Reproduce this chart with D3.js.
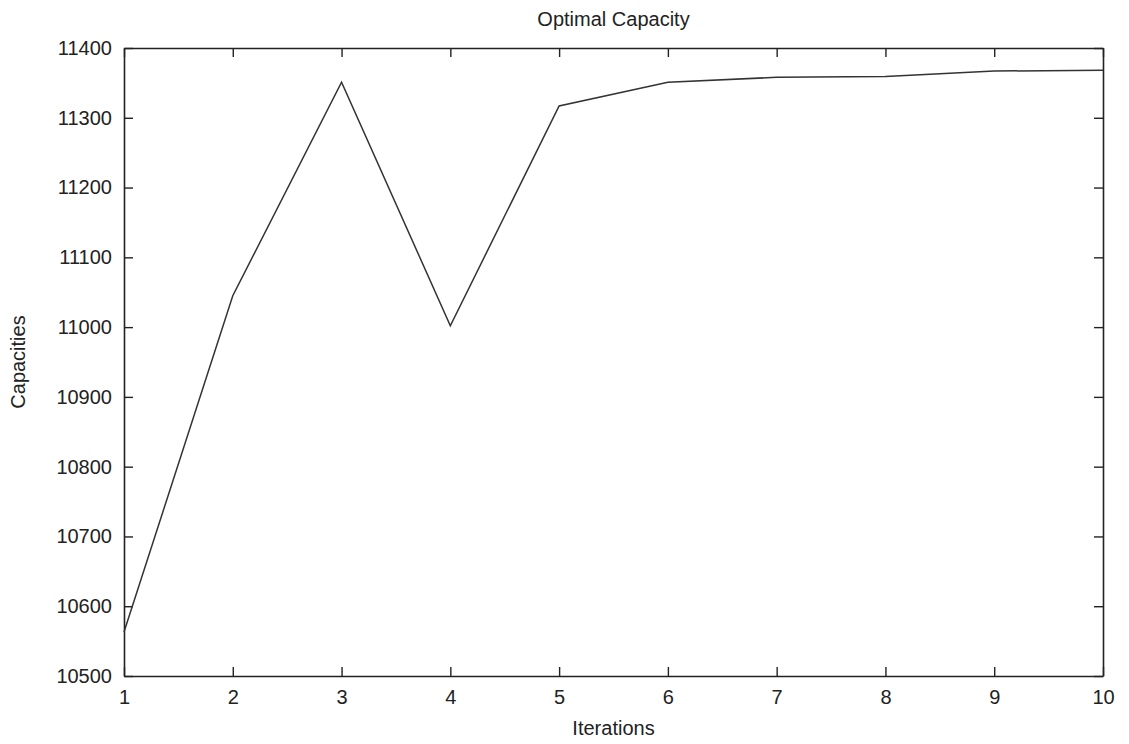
<!DOCTYPE html>
<html><head><meta charset="utf-8">
<script src="https://cdn.jsdelivr.net/npm/d3@7"></script>
<style>
html,body{margin:0;padding:0;background:#fff;}
text{font-family:"Liberation Sans",Arial,Helvetica,sans-serif;fill:#222;}
</style></head>
<body>
<svg id="chart" width="1129" height="744"></svg>
<script>
const iterations = [1,2,3,4,5,6,7,8,9,10];
const capacities = [10563,11045,11351,11002,11317,11351,11358,11359,11367,11368];
const xTicks = [1,2,3,4,5,6,7,8,9,10];
const yTicks = [10500,10600,10700,10800,10900,11000,11100,11200,11300,11400];
const title = "Optimal Capacity";
const xLabel = "Iterations";
const yLabel = "Capacities";

const svg = d3.select("#chart");
const m = {left:124, right:1129-1103, top:48, bottom:744-676};
const W = 1129, H = 744;
const x = d3.scaleLinear().domain([1,10]).range([m.left, W-m.right]);
const y = d3.scaleLinear().domain([10500,11400]).range([H-m.bottom, m.top]);
const fs = 20;
const ink = "#222";

// bottom axis
const gb = svg.append("g").attr("transform",`translate(0,${H-m.bottom})`)
  .call(d3.axisBottom(x).tickValues(xTicks).tickSizeInner(-9).tickSizeOuter(0).tickPadding(14).tickFormat(d3.format("d")));
const gt = svg.append("g").attr("transform",`translate(0,${m.top})`)
  .call(d3.axisTop(x).tickValues(xTicks).tickSizeInner(-9).tickSizeOuter(0).tickFormat(""));
const gl = svg.append("g").attr("transform",`translate(${m.left},0)`)
  .call(d3.axisLeft(y).tickValues(yTicks).tickSizeInner(-9).tickSizeOuter(0).tickPadding(12).tickFormat(d3.format("d")));
const gr = svg.append("g").attr("transform",`translate(${W-m.right},0)`)
  .call(d3.axisRight(y).tickValues(yTicks).tickSizeInner(-9).tickSizeOuter(0).tickFormat(""));
[gb,gt,gl,gr].forEach(g=>{
  g.selectAll(".domain").attr("stroke",ink).attr("stroke-width",1.6);
  g.selectAll(".tick line").attr("stroke",ink).attr("stroke-width",1.4);
  g.selectAll(".tick text").attr("font-size",fs).attr("font-family","Liberation Sans, Arial, sans-serif").attr("fill",ink);
});
gb.selectAll(".tick text").attr("dy","0.71em");

// line
svg.append("path")
  .datum(iterations.map((d,i)=>[d,capacities[i]]))
  .attr("fill","none").attr("stroke","#333").attr("stroke-width",1.5)
  .attr("stroke-linejoin","miter")
  .attr("d", d3.line().x(d=>x(d[0])).y(d=>y(d[1])));

// titles
svg.append("text").attr("x",(x(1)+x(10))/2).attr("y",26).attr("text-anchor","middle")
  .attr("font-size",fs).text(title);
svg.append("text").attr("x",(x(1)+x(10))/2).attr("y",735).attr("text-anchor","middle")
  .attr("font-size",fs).text(xLabel);
svg.append("text").attr("transform",`translate(25,${(y(10500)+y(11400))/2}) rotate(-90)`)
  .attr("text-anchor","middle").attr("font-size",fs).text(yLabel);
</script>
</body></html>
